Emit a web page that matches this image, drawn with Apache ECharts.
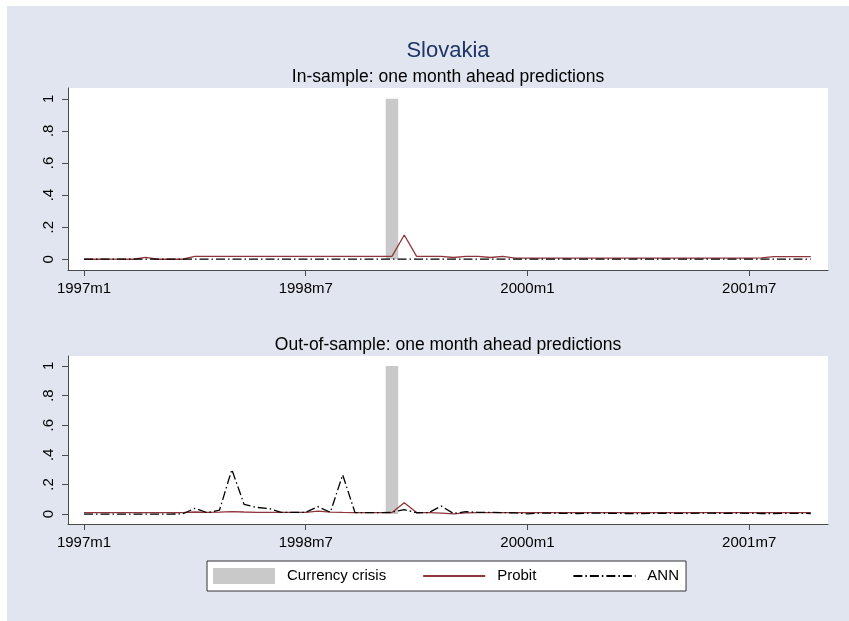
<!DOCTYPE html>
<html>
<head>
<meta charset="utf-8">
<script src="https://cdn.jsdelivr.net/npm/echarts@6/dist/echarts.min.js"></script>
<style>
  html, body { margin: 0; padding: 0; background: #ffffff; }
  #chart { position: absolute; left: 7px; top: 6px; width: 842px; height: 615px; }
</style>
</head>
<body>
<div id="chart"></div>
<script>
// Monthly observations, index 0 = 1997m1 ... 59 = 2001m12
const xTickPos = [0, 18, 36, 54];
const xTickLabels = ['1997m1', '1998m7', '2000m1', '2001m7'];
const yTickPos = [0, 0.2, 0.4, 0.6, 0.8, 1];
const yTickLabels = ['0', '.2', '.4', '.6', '.8', '1'];

// Currency crisis month (1999m2) and its indicator height
const crisisMonths = [25];
const crisisValue = 1;

// In-sample one month ahead predictions
const inProbit = [
  0, 0, 0.001, 0.001, 0, 0.012, 0, 0, 0, 0.018,
  0.018, 0.018, 0.018, 0.018, 0.018, 0.018, 0.018, 0.018, 0.018, 0.018,
  0.018, 0.018, 0.018, 0.018, 0.018, 0.018, 0.151, 0.018, 0.018, 0.018,
  0.011, 0.018, 0.018, 0.011, 0.018, 0.007, 0.007, 0.007, 0.007, 0.007,
  0.007, 0.007, 0.007, 0.007, 0.007, 0.007, 0.007, 0.007, 0.007, 0.007,
  0.007, 0.007, 0.007, 0.007, 0.007, 0.008, 0.016, 0.016, 0.016, 0.016
];
const inANN = [
  0.001, 0.001, 0.001, 0.001, 0.001, 0.001, 0.001, 0.001, 0.001, 0.001,
  0.001, 0.001, 0.001, 0.001, 0.001, 0.001, 0.001, 0.001, 0.001, 0.001,
  0.001, 0.001, 0.001, 0.001, 0.001, 0.001, 0.001, 0.001, 0.001, 0.001,
  0.001, 0.001, 0.001, 0.001, 0.001, 0.001, 0.001, 0.001, 0.001, 0.001,
  0.001, 0.001, 0.001, 0.001, 0.001, 0.001, 0.001, 0.001, 0.001, 0.001,
  0.001, 0.001, 0.001, 0.001, 0.001, 0.001, 0.001, 0.001, 0.001, 0.001
];

// Out-of-sample one month ahead predictions
const outProbit = [
  0.01, 0.01, 0.01, 0.01, 0.01, 0.01, 0.01, 0.01, 0.01, 0.014,
  0.011, 0.013, 0.017, 0.014, 0.012, 0.011, 0.011, 0.011, 0.012, 0.02,
  0.013, 0.011, 0.01, 0.01, 0.01, 0.01, 0.077, 0.01, 0.01, 0.007,
  0.001, 0.008, 0.01, 0.01, 0.01, 0.01, 0.01, 0.01, 0.01, 0.01,
  0.01, 0.01, 0.01, 0.01, 0.01, 0.01, 0.01, 0.01, 0.01, 0.01,
  0.01, 0.01, 0.01, 0.01, 0.01, 0.01, 0.01, 0.01, 0.01, 0.01
];
const outANN = [
  0, 0, 0, 0, 0, 0, 0, 0, 0.001, 0.039,
  0.009, 0.027, 0.30, 0.065, 0.045, 0.038, 0.012, 0.012, 0.012, 0.05,
  0.012, 0.265, 0.01, 0.01, 0.01, 0.012, 0.03, 0.009, 0.01, 0.054,
  0.004, 0.016, 0.012, 0.012, 0.01, 0.008, 0.002, 0.006, 0.006, 0.005,
  0.004, 0.006, 0.006, 0.005, 0.004, 0.003, 0.005, 0.006, 0.005, 0.004,
  0.006, 0.006, 0.005, 0.006, 0.005, 0.004, 0.004, 0.005, 0.005, 0.004
];

const FONT = 'Liberation Sans, Arial, Helvetica, sans-serif';
const BG = '#e0e5ef';
const AXIS = '#4a4a4a';
const PROBIT_COLOR = '#90353b';
const ANN_COLOR = '#000000';
const CRISIS_COLOR = '#c9c9c9';
const ANN_DASH = [9, 3, 1.5, 3];

const pairs = arr => arr.map((v, i) => [i, v]);

function xAxisFor(gridIndex) {
  return {
    type: 'value', gridIndex: gridIndex,
    min: -1.3, max: 60.4,
    axisLine: { show: true, onZero: false, lineStyle: { color: AXIS, width: 1 } },
    axisTick: { show: true, length: 6, customValues: xTickPos, lineStyle: { color: AXIS } },
    axisLabel: {
      show: true, customValues: xTickPos, margin: 11,
      color: '#000', fontSize: 15, fontFamily: FONT,
      formatter: v => xTickLabels[xTickPos.indexOf(Math.round(v))]
    },
    splitLine: { show: false }
  };
}
function yAxisFor(gridIndex) {
  return {
    type: 'value', gridIndex: gridIndex,
    min: -0.067, max: 1.067,
    axisLine: { show: true, onZero: false, lineStyle: { color: AXIS, width: 1 } },
    axisTick: { show: true, length: 6, customValues: yTickPos, lineStyle: { color: AXIS } },
    axisLabel: {
      show: true, customValues: yTickPos, rotate: 90, margin: 12,
      color: '#000', fontSize: 15, fontFamily: FONT,
      formatter: v => {
        let best = 0;
        yTickPos.forEach((p, k) => { if (Math.abs(p - v) < Math.abs(yTickPos[best] - v)) best = k; });
        return yTickLabels[best];
      }
    },
    splitLine: { show: false }
  };
}

function panelSeries(idx, probit, ann) {
  return [
    {
      name: 'Currency crisis', type: 'bar', xAxisIndex: idx, yAxisIndex: idx,
      data: crisisMonths.map(m => [m, crisisValue]),
      barWidth: 12.5, itemStyle: { color: CRISIS_COLOR }, z: 1,
      emphasis: { disabled: true }
    },
    {
      name: 'Probit', type: 'line', xAxisIndex: idx, yAxisIndex: idx,
      data: pairs(probit), symbol: 'none', showSymbol: false,
      lineStyle: { color: PROBIT_COLOR, width: 1.3 }, itemStyle: { color: PROBIT_COLOR }, z: 3,
      emphasis: { disabled: true }
    },
    {
      name: 'ANN', type: 'line', xAxisIndex: idx, yAxisIndex: idx,
      data: pairs(ann), symbol: 'none', showSymbol: false,
      lineStyle: { color: ANN_COLOR, width: 1.3, type: ANN_DASH }, itemStyle: { color: ANN_COLOR }, z: 4,
      emphasis: { disabled: true }
    }
  ];
}

// line keys show only the stroke, no marker
const noMarker = { color: 'rgba(0,0,0,0)', borderWidth: 0, opacity: 0 };

const chart = echarts.init(document.getElementById('chart'), null, { renderer: 'canvas' });
chart.setOption({
  animation: false,
  backgroundColor: BG,
  grid: [
    { left: 61, top: 82, width: 760, height: 182, show: true, backgroundColor: '#ffffff', borderWidth: 0 },
    { left: 61, top: 350, width: 760, height: 168, show: true, backgroundColor: '#ffffff', borderWidth: 0 }
  ],
  xAxis: [xAxisFor(0), xAxisFor(1)],
  yAxis: [yAxisFor(0), yAxisFor(1)],
  graphic: [
    { type: 'text', x: 441, y: 45, style: { text: 'Slovakia', fill: '#1f3566', font: '22px ' + FONT, align: 'center', verticalAlign: 'middle' } },
    { type: 'text', x: 441, y: 71, style: { text: 'In-sample: one month ahead predictions', fill: '#000', font: '17.5px ' + FONT, align: 'center', verticalAlign: 'middle' } },
    { type: 'text', x: 441, y: 339, style: { text: 'Out-of-sample: one month ahead predictions', fill: '#000', font: '17.5px ' + FONT, align: 'center', verticalAlign: 'middle' } }
  ],
  legend: {
    left: 200, top: 555,
    padding: [7, 7, 7, 6],
    itemGap: 36, itemWidth: 62, itemHeight: 16,
    backgroundColor: '#ffffff', borderColor: '#333333', borderWidth: 1,
    textStyle: { color: '#000', fontSize: 15, fontFamily: FONT, padding: [0, 0, 0, 7] },
    selectedMode: false,
    data: [
      { name: 'Currency crisis', icon: 'rect' },
      { name: 'Probit', itemStyle: noMarker },
      { name: 'ANN', itemStyle: noMarker }
    ]
  },
  series: [].concat(panelSeries(0, inProbit, inANN), panelSeries(1, outProbit, outANN))
});
</script>
</body>
</html>
